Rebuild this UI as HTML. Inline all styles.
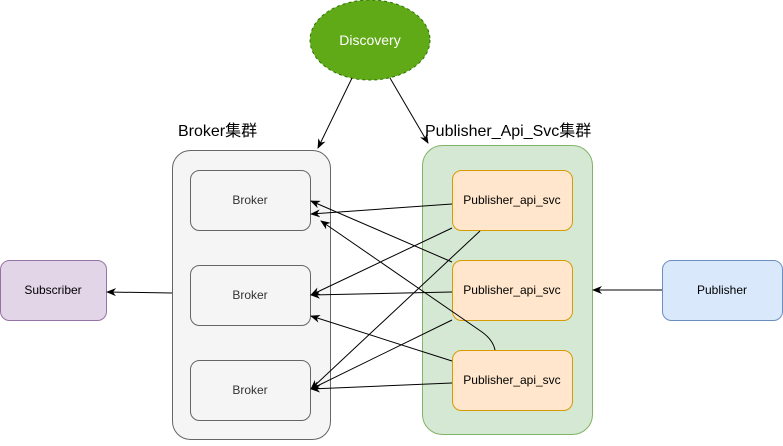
<!DOCTYPE html>
<html><head><style>body{margin:0;background:#fff}svg text{font-family:"Liberation Sans","Noto Sans CJK SC",sans-serif}</style></head>
<body>
<svg width="783" height="441" xmlns="http://www.w3.org/2000/svg">
<defs><marker id="a" markerWidth="10" markerHeight="8" refX="9" refY="4" orient="auto" markerUnits="userSpaceOnUse"><path d="M0,0 L10,4 L0,8 L3,4 Z" fill="#000"/></marker></defs>
<ellipse cx="370" cy="40" rx="60" ry="40" fill="#60a917" stroke="#2d7600" stroke-dasharray="3 3"/>
<text x="370" y="45" font-size="14" fill="#fff" text-anchor="middle">Discovery</text>
<text x="178" y="136" font-size="16">Broker集群</text>
<text x="425" y="136" font-size="16">Publisher_Api_Svc集群</text>
<rect x="172.5" y="150.5" width="158" height="289" rx="18" fill="#f5f5f5" stroke="#666"/>
<rect x="422.5" y="145.5" width="170" height="289" rx="20" fill="#d5e8d4" stroke="#82b366"/>
<g fill="#f5f5f5" stroke="#666">
<rect x="190.5" y="170.5" width="120" height="60" rx="9"/>
<rect x="190.5" y="265.5" width="120" height="60" rx="9"/>
<rect x="190.5" y="360.5" width="120" height="60" rx="9"/>
</g>
<g font-size="12" fill="#333" text-anchor="middle">
<text x="250" y="204">Broker</text><text x="250" y="299">Broker</text><text x="250" y="394">Broker</text>
</g>
<g fill="#ffe6cc" stroke="#d79b00">
<rect x="452.5" y="170.5" width="120" height="60" rx="9"/>
<rect x="452.5" y="260.5" width="120" height="60" rx="9"/>
<rect x="452.5" y="350.5" width="120" height="60" rx="9"/>
</g>
<g font-size="12" fill="#000" text-anchor="middle">
<text x="512" y="204">Publisher_api_svc</text><text x="512" y="294">Publisher_api_svc</text><text x="512" y="384">Publisher_api_svc</text>
</g>
<rect x="0.5" y="260.5" width="106" height="60" rx="9" fill="#e1d5e7" stroke="#9673a6"/>
<text x="53" y="294" font-size="12" text-anchor="middle">Subscriber</text>
<rect x="662.5" y="260.5" width="120" height="60" rx="9" fill="#dae8fc" stroke="#6c8ebf"/>
<text x="722" y="294" font-size="12" text-anchor="middle">Publisher</text>
<g stroke="#000" fill="none" marker-end="url(#a)">
<line x1="352" y1="78" x2="318" y2="148"/>
<line x1="390" y1="78" x2="428" y2="143"/>
<line x1="172" y1="293" x2="107" y2="292"/>
<line x1="662" y1="290" x2="593" y2="290"/>
<line x1="452" y1="204" x2="311" y2="214"/>
<line x1="452" y1="228" x2="311" y2="295"/>
<line x1="480" y1="231" x2="311" y2="389"/>
<line x1="452" y1="262" x2="311" y2="201"/>
<line x1="452" y1="292" x2="311" y2="295"/>
<line x1="452" y1="320" x2="311" y2="389"/>
<line x1="452" y1="361" x2="311" y2="316"/>
<line x1="452" y1="383" x2="311" y2="389"/>
<path d="M495,350 Q493,340 482,332 L321,221"/>
</g>
</svg>
</body></html>
